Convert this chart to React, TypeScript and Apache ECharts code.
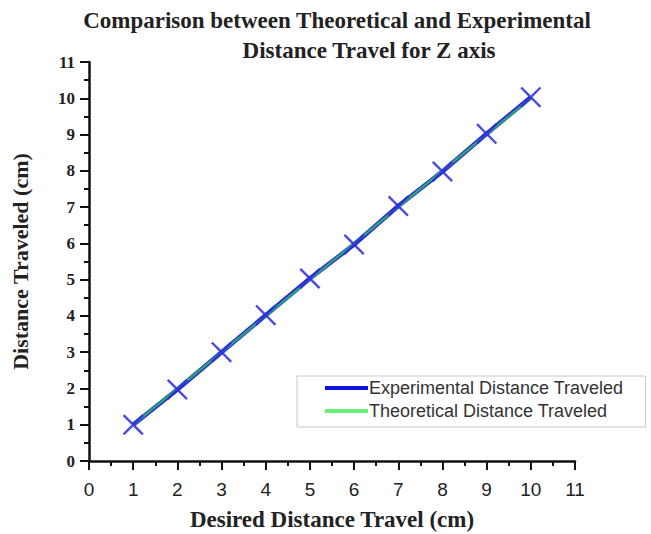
import React, { useEffect, useRef } from "react";
import * as echarts from "echarts";

const desired = [1, 2, 3, 4, 5, 6, 7, 8, 9, 10];
const experimental = [1.0, 1.97, 3.0, 4.02, 5.03, 5.97, 7.03, 7.98, 9.02, 10.03];
const theoretical = [1, 2, 3, 4, 5, 6, 7, 8, 9, 10];
const titleLine1 = "Comparison between Theoretical and Experimental";
const titleLine2 = "Distance Travel for Z axis";
const xTitle = "Desired Distance Travel (cm)";
const yTitle = "Distance Traveled (cm)";
const expName = "Experimental Distance Traveled";
const theoName = "Theoretical Distance Traveled";

const crossPath =
  "path://M0,0.8 L0.8,0 L5,4.2 L9.2,0 L10,0.8 L5.8,5 L10,9.2 L9.2,10 L5,5.8 L0.8,10 L0,9.2 L4.2,5 Z";

export default function App() {
  const ref = useRef<HTMLDivElement>(null);
  useEffect(() => {
    if (!ref.current) return;
    const chart = echarts.init(ref.current, undefined, { renderer: "svg" });
    const serif = "Liberation Serif";
    const sans = "Liberation Sans";
    chart.setOption({
      animation: false,
      backgroundColor: "#ffffff",
      title: [
        {
          text: titleLine1,
          left: 332,
          textAlign: "center",
          top: 4,
          textStyle: { fontFamily: serif, fontWeight: "bold", fontSize: 23, color: "#222" },
        },
        {
          text: titleLine2,
          left: 364,
          textAlign: "center",
          top: 34,
          textStyle: { fontFamily: serif, fontWeight: "bold", fontSize: 23, color: "#222" },
        },
      ],
      grid: {
        left: 89,
        right: 76,
        top: 62,
        bottom: 73,
        containLabel: false,
        outerBoundsMode: "none",
      },
      legend: {
        orient: "vertical",
        left: 297,
        top: 376,
        padding: [3, 22, 7, 28],
        itemGap: 5,
        itemWidth: 43,
        itemHeight: 4,
        backgroundColor: "#fff",
        borderColor: "#c8c8c8",
        borderWidth: 1,
        textStyle: { fontFamily: sans, fontSize: 18, color: "#333", padding: [0, 0, 0, -4] },
        data: [
          { name: expName, icon: "rect", itemStyle: { color: "#1010e0" } },
          { name: theoName, icon: "rect", itemStyle: { color: "#66ee77" } },
        ],
      },
      xAxis: {
        type: "value",
        min: 0,
        max: 11,
        interval: 1,
        name: xTitle,
        nameLocation: "middle",
        nameGap: 47,
        nameTextStyle: { fontFamily: serif, fontWeight: "bold", fontSize: 23, color: "#222" },
        axisLine: { show: true, lineStyle: { color: "#111", width: 2.5 } },
        axisTick: { show: true, inside: false, length: 9, lineStyle: { color: "#111", width: 2 } },
        minorTick: { show: true, splitNumber: 2, length: 5, lineStyle: { color: "#111", width: 2 } },
        axisLabel: { fontFamily: sans, fontSize: 19, color: "#222", margin: 19 },
        splitLine: { show: false },
      },
      yAxis: {
        type: "value",
        min: 0,
        max: 11,
        interval: 1,
        name: yTitle,
        nameLocation: "middle",
        nameGap: 58,
        nameTextStyle: { fontFamily: serif, fontWeight: "bold", fontSize: 22, color: "#222" },
        axisLine: { show: true, lineStyle: { color: "#111", width: 2.5 } },
        axisTick: { show: true, inside: false, length: 9, lineStyle: { color: "#111", width: 2 } },
        minorTick: { show: true, splitNumber: 2, length: 5, lineStyle: { color: "#111", width: 2 } },
        axisLabel: { fontFamily: serif, fontWeight: "bold", fontSize: 17, color: "#222", margin: 14 },
        splitLine: { show: false },
      },
      series: [
        {
          name: expName,
          type: "line",
          data: desired.map((d, i) => [d, experimental[i]]),
          lineStyle: { color: "#2a2adc", width: 4.5 },
          itemStyle: { color: "#2a2adc" },
          symbol: "none",
          z: 2,
        },
        {
          name: theoName,
          type: "line",
          data: desired.map((d, i) => [d, theoretical[i]]),
          lineStyle: { color: "#2aa078", width: 2.5 },
          itemStyle: { color: "#66ee77" },
          symbol: "none",
          z: 3,
        },
        {
          name: "markers",
          type: "scatter",
          data: desired.map((d, i) => [d, experimental[i]]),
          symbol: crossPath,
          symbolSize: 21,
          itemStyle: { color: "#2a2ae0", opacity: 0.85 },
          z: 4,
        },
      ],
    });
    return () => chart.dispose();
  }, []);
  return (
    <div
      ref={ref}
      style={{ position: "fixed", left: 0, top: 0, width: 651, height: 534 }}
    />
  );
}
